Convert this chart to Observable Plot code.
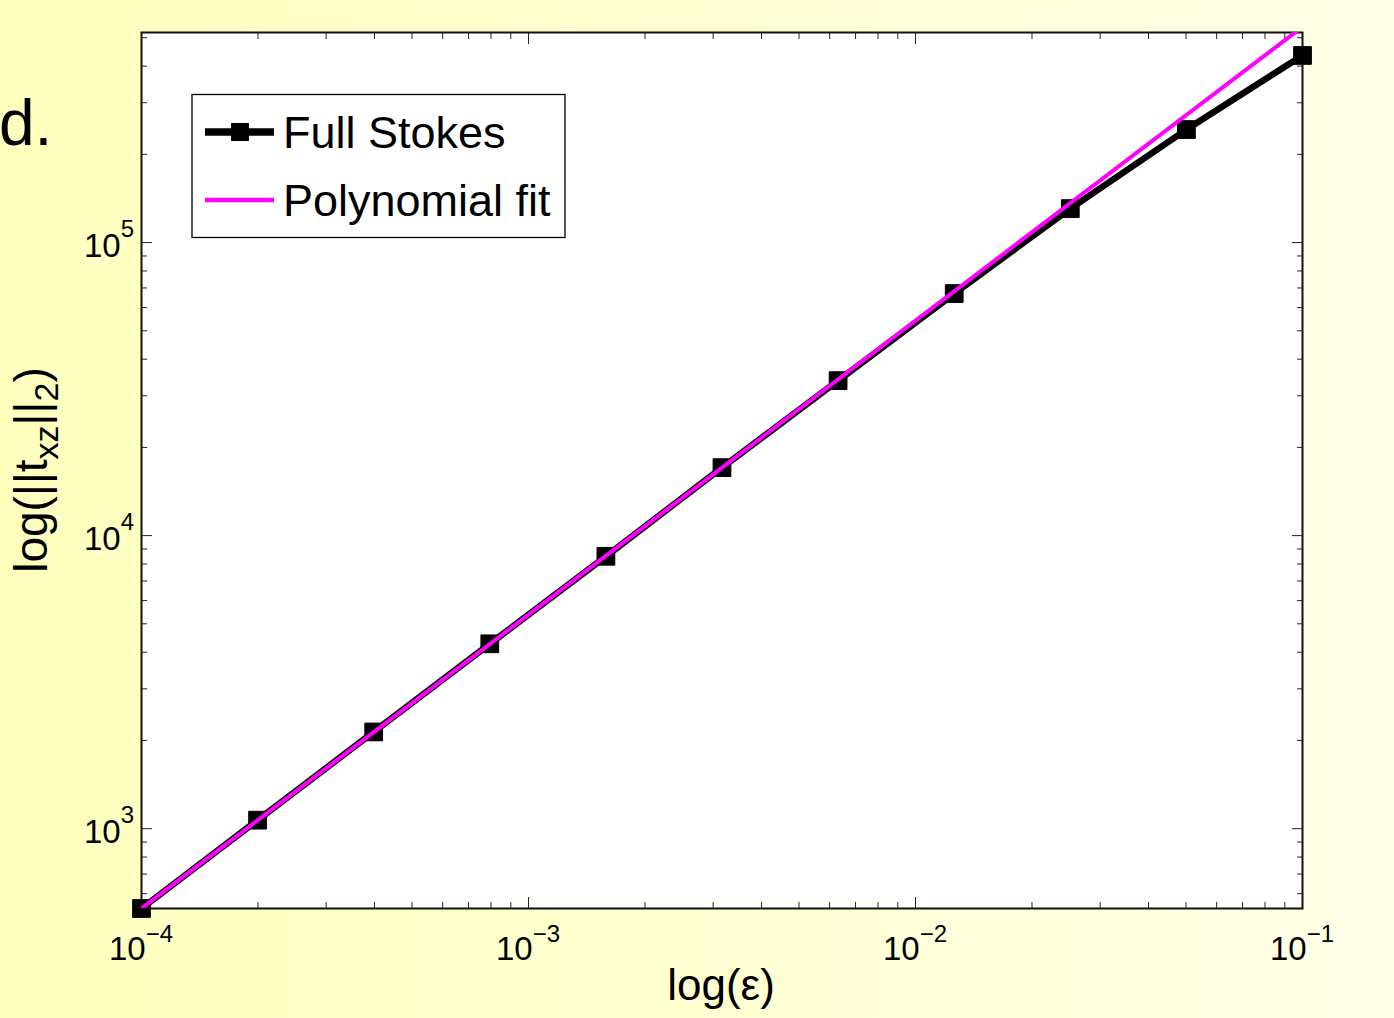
<!DOCTYPE html>
<html>
<head>
<meta charset="utf-8">
<script src="https://cdn.jsdelivr.net/npm/d3@7"></script>
<script src="https://cdn.jsdelivr.net/npm/@observablehq/plot@0.6"></script>
<style>
  html, body { margin: 0; padding: 0; }
  body { width: 1394px; height: 1018px; overflow: hidden;
         background: linear-gradient(to right, #ffffbe, #ffffd2 50%, #ffffe8); }
  svg { display: block; }
</style>
</head>
<body>
<div id="chart"></div>
<script>
// ---- data ----
const epsilon = [0.0001, 0.0001995, 0.0003981, 0.0007943, 0.001585, 0.003162, 0.00631, 0.01259, 0.02512, 0.05012, 0.1];
const fullStokes = [534, 1069, 2138, 4273, 8500, 17060, 33800, 67000, 130600, 243000, 435000];
const fitEpsilon = [0.0001, 0.1];
const fitValues = [534, 545000];
const xMajorTicks = [1e-4, 1e-3, 1e-2, 1e-1];
const xTickExponents = ["\u22124", "\u22123", "\u22122", "\u22121"];
const yMajorTicks = [1e3, 1e4, 1e5];
const yTickExponents = ["3", "4", "5"];
const seriesNames = ["Full Stokes", "Polynomial fit"];

const xMinorTicks = [];
for (const d of [1e-4, 1e-3, 1e-2]) for (let m = 2; m <= 9; m++) xMinorTicks.push(m * d);
const yMinorTicks = [];
for (const d of [1e2, 1e3, 1e4, 1e5]) for (let m = 2; m <= 9; m++) {
  const v = m * d; if (v >= 534 && v <= 5.21e5) yMinorTicks.push(v);
}

const stokesData = epsilon.map((e, i) => ({e, v: fullStokes[i]}));
const fitData = fitEpsilon.map((e, i) => ({e, v: fitValues[i]}));

const W = 1394, H = 1018;
const font = "'Liberation Sans', Arial, Helvetica, sans-serif";
const noText = () => "";
const tickStyle = {stroke: "#222", strokeWidth: 1, label: null, tickFormat: noText};

const plot = Plot.plot({
  width: W, height: H,
  marginLeft: 141, marginRight: 92, marginTop: 32, marginBottom: 110,
  x: {type: "log", domain: [1e-4, 1e-1]},
  y: {type: "log", domain: [534, 5.21e5]},
  style: {background: "transparent", fontFamily: font, overflow: "visible"},
  marks: [
    Plot.frame({fill: "white", stroke: null}),
    Plot.axisX(xMajorTicks, {anchor: "bottom", tickSize: -11, ...tickStyle}),
    Plot.axisX(xMajorTicks, {anchor: "top", tickSize: -11, ...tickStyle}),
    Plot.axisX(xMinorTicks, {anchor: "bottom", tickSize: -6, ...tickStyle}),
    Plot.axisX(xMinorTicks, {anchor: "top", tickSize: -6, ...tickStyle}),
    Plot.axisY(yMajorTicks, {anchor: "left", tickSize: -11, ...tickStyle}),
    Plot.axisY(yMajorTicks, {anchor: "right", tickSize: -11, ...tickStyle}),
    Plot.axisY(yMinorTicks, {anchor: "left", tickSize: -6, ...tickStyle}),
    Plot.axisY(yMinorTicks, {anchor: "right", tickSize: -6, ...tickStyle}),
    Plot.frame({stroke: "#111", strokeWidth: 2}),
    Plot.line(stokesData, {x: "e", y: "v", stroke: "black", strokeWidth: 6.5, strokeLinejoin: "miter"}),
    Plot.dot(stokesData, {x: "e", y: "v", symbol: "square", r: 10, fill: "black", stroke: "black", strokeWidth: 1}),
    Plot.line(fitData, {x: "e", y: "v", stroke: "#ff00ff", strokeWidth: 4, clip: true})
  ]
});
document.getElementById("chart").appendChild(plot);

const svg = d3.select(plot);
const sx = plot.scale("x"), sy = plot.scale("y");

// x tick labels with superscripts
xMajorTicks.forEach((v, i) => {
  const t = svg.append("text")
    .attr("x", sx.apply(v)).attr("y", 960)
    .attr("text-anchor", "middle").attr("font-family", font).attr("fill", "black");
  t.append("tspan").attr("font-size", 33).text("10");
  t.append("tspan").attr("font-size", 24).attr("dy", -18).text(xTickExponents[i]);
});
// y tick labels with superscripts
yMajorTicks.forEach((v, i) => {
  const t = svg.append("text")
    .attr("x", 134).attr("y", sy.apply(v) + 15)
    .attr("text-anchor", "end").attr("font-family", font).attr("fill", "black");
  t.append("tspan").attr("font-size", 33).text("10");
  t.append("tspan").attr("font-size", 24).attr("dy", -20).text(yTickExponents[i]);
});

// axis labels
svg.append("text")
  .attr("x", 721).attr("y", 1000).attr("text-anchor", "middle")
  .attr("font-family", font).attr("font-size", 44).attr("fill", "black")
  .text("log(\u03b5)");

const yl = svg.append("text")
  .attr("transform", "translate(47,470) rotate(-90)")
  .attr("text-anchor", "middle").attr("font-family", font).attr("font-size", 46).attr("fill", "black");
yl.append("tspan").text("log(||t");
yl.append("tspan").attr("font-size", 34).attr("dy", 11).text("xz");
yl.append("tspan").attr("dy", -11).text("||");
yl.append("tspan").attr("font-size", 34).attr("dy", 11).text("2");
yl.append("tspan").attr("dy", -11).text(")");

// panel letter
svg.append("text")
  .attr("x", -1).attr("y", 145).attr("text-anchor", "start")
  .attr("font-family", font).attr("font-size", 64).attr("fill", "black")
  .text("d.");

// legend
const lg = svg.append("g");
lg.append("rect").attr("x", 192).attr("y", 94.5).attr("width", 373).attr("height", 143)
  .attr("fill", "white").attr("stroke", "black").attr("stroke-width", 1.3);
const rows = [132, 200];
lg.append("line").attr("x1", 205).attr("x2", 274).attr("y1", rows[0]).attr("y2", rows[0])
  .attr("stroke", "black").attr("stroke-width", 7.5);
lg.append("rect").attr("x", 231).attr("y", rows[0] - 9).attr("width", 18).attr("height", 18).attr("fill", "black");
lg.append("line").attr("x1", 205).attr("x2", 274).attr("y1", rows[1]).attr("y2", rows[1])
  .attr("stroke", "#ff00ff").attr("stroke-width", 4.5);
seriesNames.forEach((name, i) => {
  lg.append("text").attr("x", 283).attr("y", rows[i] + 16).attr("text-anchor", "start")
    .attr("font-family", font).attr("font-size", 45).attr("fill", "black").text(name);
});
</script>
</body>
</html>
